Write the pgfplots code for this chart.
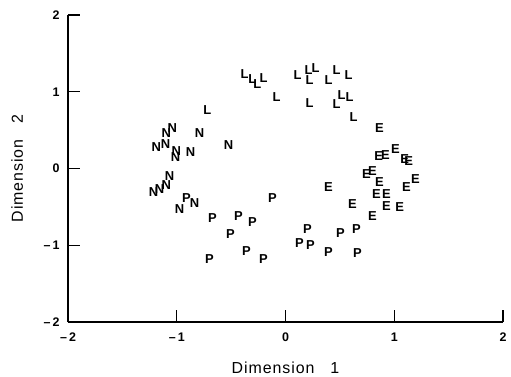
\documentclass[border=0pt]{standalone}
\usepackage{fontspec}
\setmainfont{Liberation Sans}
\usepackage{pgfplots}
\pgfplotsset{compat=1.18}
\usetikzlibrary{plotmarks}
\tikzset{lt/.style={only marks, black, mark=text, text mark={#1}, text mark as node=true,
     text mark style={font=\fontsize{13}{13}\selectfont\bfseries, inner sep=0pt}}}
\begin{document}
\begin{tikzpicture}
\begin{axis}[
  scale only axis, width=435bp, height=307bp,
  xmin=-2, xmax=2, ymin=-2, ymax=2,
  axis x line*=bottom, axis y line*=left,
  x axis line style={-}, y axis line style={-},
  every outer x axis line/.append style={line width=1.2pt, black},
  every outer y axis line/.append style={line width=1.2pt, black},
  xtick={-2,-1,0,1,2}, ytick={-2,-1,0,1,2},
  xticklabels={\textendash\,2,\textendash\,1,0,1,2},
  yticklabels={\textendash\,2,\textendash\,1,0,1,2},
  tick align=inside, major tick length=12bp,
  every tick/.append style={line width=1.2pt, black},
  tick label style={font=\fontsize{12.5}{13}\selectfont\bfseries},
  xticklabel style={yshift=-7bp},
  yticklabel style={xshift=-5bp},
  xlabel={Dimension\quad 1}, ylabel={Dimension\quad 2},
  label style={font=\fontsize{16}{18}\selectfont\addfontfeature{LetterSpace=6}},
  xlabel style={at={(axis description cs:0.5,-0.15)}, anchor=center},
  ylabel style={at={(axis description cs:-0.117,0.5)}, anchor=center},
  clip=false,
]
\addplot[lt=L] table {
x y
-0.377 1.234
-0.304 1.169
-0.258 1.104
-0.202 1.182
-0.083 0.935
0.110 1.221
0.212 1.286
0.276 1.312
0.221 1.156
0.396 1.156
0.469 1.286
0.580 1.221
0.221 0.857
0.469 0.844
0.515 0.961
0.589 0.935
0.626 0.675
-0.718 0.766
};
\addplot[lt=E] table {
x y
0.865 0.532
0.856 0.156
0.920 0.169
1.012 0.247
1.095 0.117
1.132 0.091
0.745 -0.078
0.800 -0.039
0.865 -0.182
0.837 -0.338
0.929 -0.338
1.113 -0.247
1.196 -0.143
0.396 -0.247
0.616 -0.468
0.929 -0.494
1.049 -0.506
0.800 -0.623
};
\addplot[lt=P] table {
x y
-0.672 -0.649
-0.432 -0.623
-0.304 -0.701
-0.506 -0.857
-0.699 -1.182
-0.359 -1.078
-0.202 -1.182
-0.120 -0.390
0.202 -0.792
0.129 -0.974
0.230 -1.000
0.396 -1.091
0.506 -0.844
0.653 -0.792
0.662 -1.104
-0.911 -0.390
};
\addplot[lt=N] table {
x y
-0.791 0.468
-0.524 0.312
-1.187 0.286
-1.040 0.532
-1.095 0.468
-1.104 0.325
-1.003 0.221
-1.012 0.143
-0.874 0.208
-1.067 -0.104
-1.095 -0.221
-1.159 -0.273
-1.214 -0.312
-0.975 -0.532
-0.837 -0.455
};
\coordinate (ll) at (rel axis cs:0,0);
\coordinate (ur) at (rel axis cs:1,1);
\end{axis}
\pgfresetboundingbox
\path ([shift={(-68bp,-55bp)}]ll) rectangle ([shift={(8bp,15bp)}]ur);
\end{tikzpicture}
\end{document}
